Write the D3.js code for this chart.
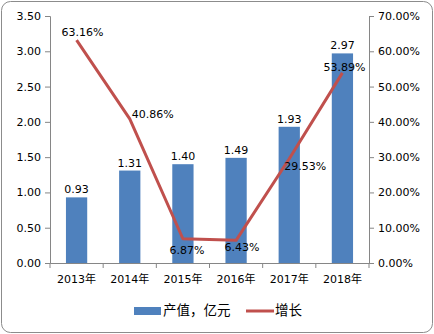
<!DOCTYPE html>
<html>
<head>
<meta charset="utf-8">
<script src="https://cdn.jsdelivr.net/npm/d3@7/dist/d3.min.js"></script>
<style>
  html, body { margin: 0; padding: 0; background: #fff; }
  svg { display: block; }
  text { font-family: "DejaVu Sans", "Noto Sans CJK SC", sans-serif; font-size: 11px; fill: #000; }
</style>
</head>
<body>
<script>
// Output value (100 million yuan) and year-on-year growth (%)
const years = ["2013年", "2014年", "2015年", "2016年", "2017年", "2018年"];
const output = [0.93, 1.31, 1.40, 1.49, 1.93, 2.97];
const growth = [63.16, 40.86, 6.87, 6.43, 29.53, 53.89];
const leftTicks = [0, 0.5, 1, 1.5, 2, 2.5, 3, 3.5];
const rightTicks = [0, 10, 20, 30, 40, 50, 60, 70];
const legendLabels = ["产值，亿元", "增长"];

const W = 434, H = 334;
const m = { top: 16, right: 65, bottom: 71, left: 50 };
const BAR = "#4F81BD", LINE = "#C0504D", AXIS = "#868686";

const svg = d3.select("body").append("svg").attr("width", W).attr("height", H);

svg.append("rect")
  .attr("x", 1.5).attr("y", 1.5).attr("width", W - 3).attr("height", H - 3)
  .attr("rx", 9).attr("fill", "#fff").attr("stroke", "#8c8c8c").attr("stroke-width", 1);

const xc = d3.scaleBand().domain(years).range([m.left, W - m.right]);
const yL = d3.scaleLinear().domain([0, 3.5]).range([H - m.bottom, m.top]);
const yR = d3.scaleLinear().domain([0, 70]).range([H - m.bottom, m.top]);
const cx = i => xc(years[i]) + xc.bandwidth() / 2;
const barW = xc.bandwidth() * 0.4;

// Bars
svg.append("g").selectAll("rect").data(output).join("rect")
  .attr("x", (d, i) => cx(i) - barW / 2)
  .attr("width", barW)
  .attr("y", d => yL(d))
  .attr("height", d => yL(0) - yL(d))
  .attr("fill", BAR);

// Axes
const axL = svg.append("g").attr("transform", `translate(${m.left},0)`)
  .call(d3.axisLeft(yL).tickValues(leftTicks).tickFormat(d3.format(".2f")).tickSize(5).tickPadding(4));
const axR = svg.append("g").attr("transform", `translate(${W - m.right},0)`)
  .call(d3.axisRight(yR).tickValues(rightTicks).tickFormat(d => d.toFixed(2) + "%").tickSize(5).tickPadding(4));
const axB = svg.append("g").attr("transform", `translate(0,${H - m.bottom})`)
  .call(d3.axisBottom(xc).tickSize(0).tickPadding(12));
// category boundary ticks
svg.append("g").selectAll("line").data(d3.range(years.length + 1)).join("line")
  .attr("x1", i => m.left + i * xc.step()).attr("x2", i => m.left + i * xc.step())
  .attr("y1", H - m.bottom).attr("y2", H - m.bottom + 5)
  .attr("stroke", AXIS);

[axL, axR, axB].forEach(g => {
  g.selectAll("path, line").attr("stroke", AXIS);
  g.selectAll("text").style("font-size", "11px").attr("fill", "#000");
});
axB.selectAll("text").style("font-family", "'DejaVu Sans', 'Noto Sans CJK SC', sans-serif");

// Growth line
svg.append("path")
  .datum(growth)
  .attr("d", d3.line().x((d, i) => cx(i)).y(d => yR(d)))
  .attr("fill", "none").attr("stroke", LINE).attr("stroke-width", 3).attr("stroke-linejoin", "round");

// Bar value labels
svg.append("g").selectAll("text").data(output).join("text")
  .attr("x", (d, i) => cx(i))
  .attr("y", d => yL(d) - 4)
  .attr("text-anchor", "middle")
  .text(d => d.toFixed(2));

// Growth labels, nudged around the line
const gOff = [[6, -4], [23, -1], [4, 15], [6, 11], [16, 11], [2, -2]];
svg.append("g").selectAll("text").data(growth).join("text")
  .attr("x", (d, i) => cx(i) + gOff[i][0])
  .attr("y", (d, i) => yR(d) + gOff[i][1])
  .attr("text-anchor", "middle")
  .text(d => d.toFixed(2) + "%");

// Legend
const lg = svg.append("g");
lg.append("rect").attr("x", 134).attr("y", 307).attr("width", 27).attr("height", 8).attr("fill", BAR);
lg.append("text").attr("x", 163).attr("y", 315).style("font-family", "'Noto Sans CJK SC', sans-serif").style("font-size", "13.5px").text(legendLabels[0]);
lg.append("line").attr("x1", 246).attr("x2", 274).attr("y1", 311).attr("y2", 311).attr("stroke", LINE).attr("stroke-width", 3);
lg.append("text").attr("x", 275).attr("y", 315).style("font-family", "'Noto Sans CJK SC', sans-serif").style("font-size", "13.5px").text(legendLabels[1]);
</script>
</body>
</html>
